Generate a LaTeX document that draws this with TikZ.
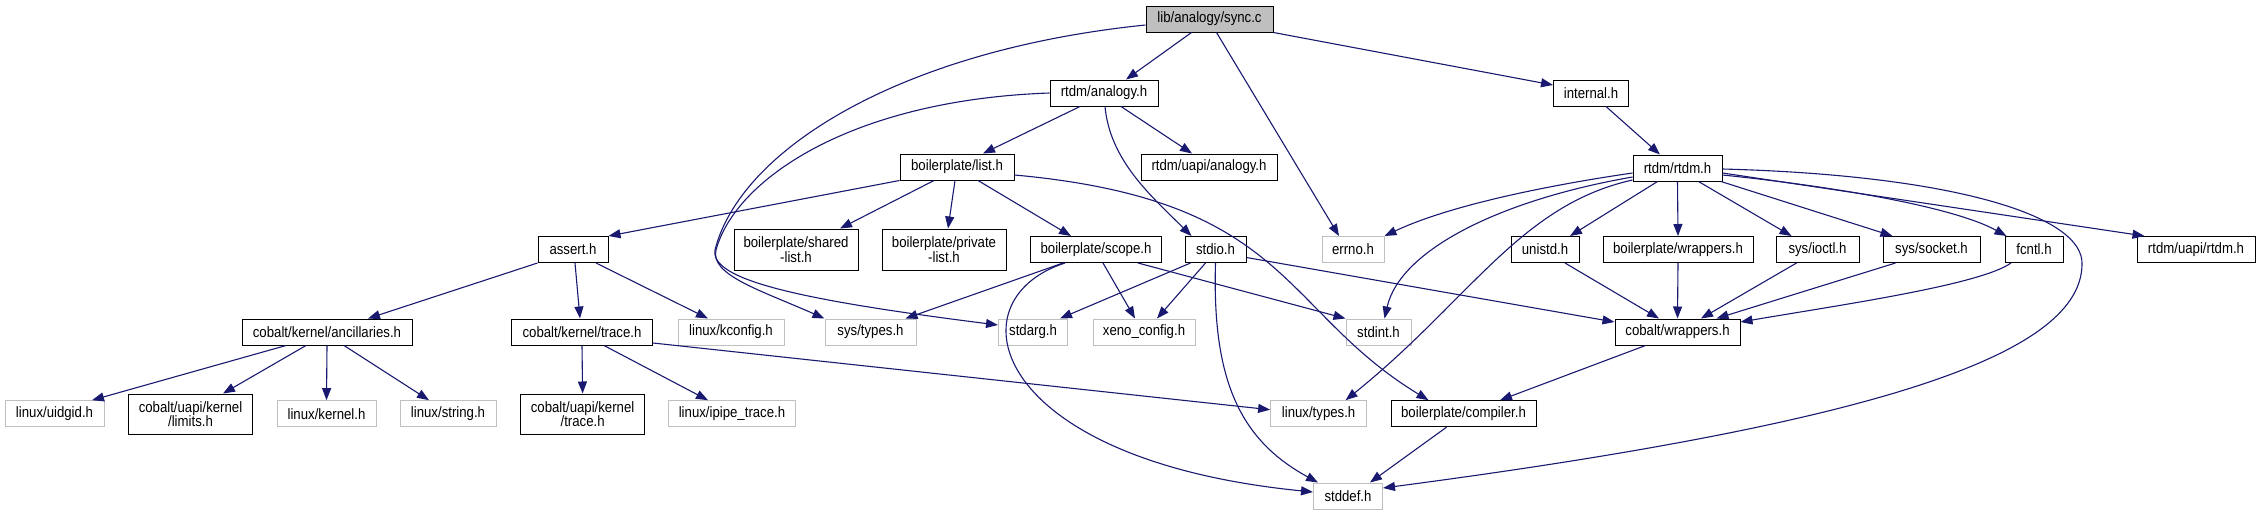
\documentclass[tikz,border=0pt]{standalone}
\usepackage{fontspec}
\setmainfont{Liberation Sans}[FakeStretch=0.88]
\usetikzlibrary{arrows.meta,calc}
\definecolor{edgecol}{HTML}{191970}
\definecolor{graybd}{HTML}{BFBFBF}
\tikzset{
  box/.style={draw=black, fill=white, line width=1pt, inner sep=0pt, minimum height=26pt,
    font=\fontsize{15}{14.3}\selectfont, align=center},
  gbox/.style={box, draw=graybd},
  tall/.style={minimum height=41pt},
  edge/.style={draw=edgecol, line width=1.1pt, -{Triangle[length=12pt,width=9pt]}}
}
\begin{document}
\begin{tikzpicture}[x=1pt,y=-1pt]
\useasboundingbox (0,0) rectangle (2263,515);
% row 1
\node[box, fill=graybd, minimum width=127pt] (sync) at (1209.5,19) {lib/analogy/sync.c};
% row 2
\node[box, minimum width=108pt] (analogy) at (1104,93) {rtdm/analogy.h};
\node[box, minimum width=75pt] (internal) at (1591,93) {internal.h};
% row 3
\node[box, minimum width=114pt] (list) at (957,167) {boilerplate/list.h};
\node[box, minimum width=136pt] (uapiana) at (1209,167) {rtdm/uapi/analogy.h};
\node[box, minimum width=89pt] (rtdm) at (1677.5,168) {rtdm/rtdm.h};
% row 4
\node[box, minimum width=70pt] (assert) at (573,249.5) {assert.h};
\node[box, tall, minimum width=124pt] (shared) at (796,249.5) {boilerplate/shared\\-list.h};
\node[box, tall, minimum width=124pt] (private) at (944,249.5) {boilerplate/private\\-list.h};
\node[box, minimum width=131pt] (scope) at (1096,249.5) {boilerplate/scope.h};
\node[box, minimum width=61pt] (stdio) at (1215.5,249.5) {stdio.h};
\node[gbox, minimum width=62pt] (errno) at (1353,249.5) {errno.h};
\node[box, minimum width=68pt] (unistd) at (1545,249.5) {unistd.h};
\node[box, minimum width=150pt] (bwrap) at (1678,249.5) {boilerplate/wrappers.h};
\node[box, minimum width=83pt] (ioctl) at (1817.5,249.5) {sys/ioctl.h};
\node[box, minimum width=97pt] (socket) at (1931.5,249.5) {sys/socket.h};
\node[box, minimum width=58pt] (fcntl) at (2034,249.5) {fcntl.h};
\node[box, minimum width=118pt] (uapirtdm) at (2196,249.5) {rtdm/uapi/rtdm.h};
% row 5
\node[box, minimum width=170pt] (anc) at (327,332) {cobalt/kernel/ancillaries.h};
\node[box, minimum width=141pt] (ktrace) at (582,332) {cobalt/kernel/trace.h};
\node[gbox, minimum width=106pt] (kconfig) at (731,332) {linux/kconfig.h};
\node[gbox, minimum width=91pt] (systypes) at (870.5,332) {sys/types.h};
\node[gbox, minimum width=69pt] (stdarg) at (1033,332) {stdarg.h};
\node[gbox, minimum width=102pt] (xeno) at (1144,332) {xeno\_config.h};
\node[gbox, minimum width=65pt] (stdint) at (1378.5,332) {stdint.h};
\node[box, minimum width=125pt] (cwrap) at (1677.5,332) {cobalt/wrappers.h};
% row 6
\node[gbox, minimum width=99pt] (uidgid) at (54.5,413.7) {linux/uidgid.h};
\node[box, tall, minimum height=40pt, minimum width=124pt] (limits) at (190.5,414) {cobalt/uapi/kernel\\/limits.h};
\node[gbox, minimum width=99pt] (kernel) at (326.5,413.7) {linux/kernel.h};
\node[gbox, minimum width=96pt] (string) at (448,413.7) {linux/string.h};
\node[box, tall, minimum height=40pt, minimum width=124pt] (utrace) at (582.6,414) {cobalt/uapi/kernel\\/trace.h};
\node[gbox, minimum width=127pt] (ipipe) at (732,413.7) {linux/ipipe\_trace.h};
\node[gbox, minimum width=96pt] (ltypes) at (1318.6,413.7) {linux/types.h};
\node[box, minimum width=145pt] (compiler) at (1463.5,413.7) {boilerplate/compiler.h};
% row 7
\node[gbox, minimum width=69pt] (stddef) at (1348,496) {stddef.h};

% edges from sync.c
\draw[edge] ($(sync.south)+(-18,0)$) -- ($(analogy.north)+(22,0)$);
\draw[edge] ($(sync.south)+(7,0)$) -- ($(errno.north)+(-14,0)$);
\draw[edge] (sync.south east) -- ($(internal.west)+(0,-8)$);
\draw[edge] ($(sync.west)+(0,6)$) .. controls (900,50) and (740,150) .. (715,250)
  .. controls (710,280) and (800,300) .. ($(stdarg.west)+(0,-7)$);
% edges from rtdm/analogy.h
\draw[edge] ($(analogy.south)+(-24,0)$) -- ($(list.north)+(26,0)$);
\draw[edge] ($(analogy.south)+(17,0)$) -- ($(uapiana.north)+(-17,0)$);
\draw[edge] ($(analogy.south)+(1,0)$) .. controls (1110,160) and (1150,195) .. ($(stdio.north)+(-24,0)$);
\draw[edge] (analogy.west) .. controls (850,100) and (735,180) .. (716,250)
  .. controls (710,275) and (760,290) .. (systypes.north west);
% internal
\draw[edge] ($(internal.south)+(15,0)$) -- ($(rtdm.north)+(-17.5,0)$);
% list
\draw[edge] (list.south west) -- (assert.north east);
\draw[edge] ($(list.south)+(-23,0)$) -- ($(shared.north)+(44,0)$);
\draw[edge] ($(list.south)+(-2,0)$) -- ($(private.north)+(4,0)$);
\draw[edge] ($(list.south)+(21,0)$) -- ($(scope.north)+(-25,0)$);
\draw[edge] ($(list.east)+(0,8)$) .. controls (1290,200) and (1280,310) .. ($(compiler.north)+(-35,0)$);
% assert
\draw[edge] (assert.south west) -- ($(anc.north)+(41,0)$);
\draw[edge] ($(assert.south)+(2,0)$) -- ($(ktrace.north)+(-2,0)$);
\draw[edge] ($(assert.south)+(23,0)$) -- ($(kconfig.north)+(-23,0)$);
% ancillaries
\draw[edge] ($(anc.south)+(-41,0)$) -- ($(uidgid.north)+(37.5,0)$);
\draw[edge] ($(anc.south)+(-21,0)$) -- ($(limits.north)+(32.5,0)$);
\draw[edge] (anc.south) -- (kernel.north);
\draw[edge] ($(anc.south)+(17,0)$) -- ($(string.north)+(-19,0)$);
% kernel trace
\draw[edge] (ktrace.south) -- (utrace.north);
\draw[edge] ($(ktrace.south)+(22,0)$) -- ($(ipipe.north)+(-24,0)$);
\draw[edge] ($(ktrace.east)+(0,11)$) -- ($(ltypes.west)+(0,-4)$);
% scope
\draw[edge] ($(scope.south)+(-33,0)$) -- ($(systypes.north)+(35,0)$);
\draw[edge] ($(scope.south)+(7,0)$) -- ($(xeno.north)+(-9,0)$);
\draw[edge] ($(scope.south)+(42,0)$) -- (stdint.north west);
\draw[edge] ($(scope.south)+(-31,0)$) .. controls (950,300) and (990,460) .. ($(stddef.west)+(0,-4)$);
% stdio
\draw[edge] ($(stdio.south)+(-25,0)$) -- ($(stdarg.north)+(27,0)$);
\draw[edge] ($(stdio.south)+(-10,0)$) -- ($(xeno.north)+(13,0)$);
\draw[edge] (stdio.south) .. controls (1212,380) and (1240,440) .. ($(stddef.north west)+(5,0)$);
\draw[edge] ($(stdio.east)+(0,8)$) -- ($(cwrap.west)+(0,-10)$);
% rtdm
\draw[edge] ($(rtdm.west)+(0,5)$) .. controls (1550,185) and (1450,205) .. (errno.north east);
\draw[edge] ($(rtdm.west)+(0,9)$) .. controls (1500,200) and (1400,250) .. ($(stdint.north)+(6,0)$);
\draw[edge] ($(rtdm.west)+(0,12)$) .. controls (1520,205) and (1470,300) .. ($(ltypes.north)+(27,0)$);
\draw[edge] ($(rtdm.east)+(0,1)$) .. controls (1950,175) and (2085,215) .. (2082,265)
  .. controls (2080,350) and (1900,420) .. ($(stddef.east)+(0,-8)$);
\draw[edge] ($(rtdm.south)+(-20,0)$) -- ($(unistd.north)+(25,0)$);
\draw[edge] (rtdm.south) -- (bwrap.north);
\draw[edge] ($(rtdm.south)+(21,0)$) -- ($(ioctl.north)+(-26,0)$);
\draw[edge] ($(rtdm.south east)+(-1.5,0)$) -- ($(socket.north)+(-39,0)$);
\draw[edge] ($(rtdm.east)+(0,7)$) .. controls (1820,185) and (1950,205) .. ($(fcntl.north west)+(2,0)$);
\draw[edge] ($(rtdm.east)+(0,5)$) -- ($(uapirtdm.north west)+(8,0)$);
% into cobalt/wrappers.h
\draw[edge] ($(unistd.south)+(20,0)$) -- ($(cwrap.north)+(-18.5,0)$);
\draw[edge] (bwrap.south) -- (cwrap.north);
\draw[edge] ($(ioctl.south)+(-21,0)$) -- ($(cwrap.north)+(23.5,0)$);
\draw[edge] ($(socket.south)+(-36,0)$) -- ($(cwrap.north)+(39,0)$);
\draw[edge] ($(fcntl.south)+(-23,0)$) .. controls (1980,285) and (1840,305) .. ($(cwrap.east)+(0,-10)$);
% cobalt wrappers / compiler
\draw[edge] ($(cwrap.south)+(-32,0)$) -- ($(compiler.north)+(36.5,0)$);
\draw[edge] ($(compiler.south)+(-17,0)$) -- ($(stddef.north)+(22,0)$);
\end{tikzpicture}
\end{document}
